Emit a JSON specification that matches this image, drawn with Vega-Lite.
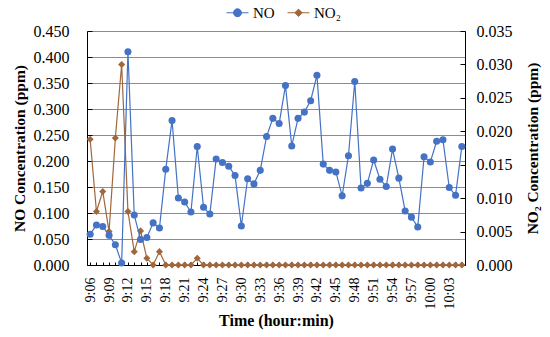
{
  "$schema": "https://vega.github.io/schema/vega-lite/v6.json",
  "width": 378,
  "height": 234,
  "autosize": {"type": "none"},
  "padding": {"left": 87, "top": 31, "right": 85, "bottom": 72},
  "background": "white",
  "config": {
    "view": {"stroke": null},
    "font": "Liberation Serif",
    "style": {"guide-label": {"font": "Liberation Serif"}, "guide-title": {"font": "Liberation Serif"}},
    "axis": {"domainColor": "black", "tickColor": "black", "labelColor": "black", "titleColor": "black", "labelFont": "Liberation Serif", "titleFont": "Liberation Serif", "titleFontWeight": "bold"},
    "legend": {"labelFont": "Liberation Serif"}
  },
  "data": {"values": [
    {"t": "9:06", "NO": 0.059, "NO2": 0.0188},
    {"t": "9:07", "NO": 0.077, "NO2": 0.0080},
    {"t": "9:08", "NO": 0.074, "NO2": 0.0110},
    {"t": "9:09", "NO": 0.057, "NO2": 0.0050},
    {"t": "9:10", "NO": 0.039, "NO2": 0.0190},
    {"t": "9:11", "NO": 0.004, "NO2": 0.0300},
    {"t": "9:12", "NO": 0.410, "NO2": 0.0080},
    {"t": "9:13", "NO": 0.096, "NO2": 0.0020},
    {"t": "9:14", "NO": 0.049, "NO2": 0.0051},
    {"t": "9:15", "NO": 0.053, "NO2": 0.0010},
    {"t": "9:16", "NO": 0.081, "NO2": 0.0},
    {"t": "9:17", "NO": 0.071, "NO2": 0.0020},
    {"t": "9:18", "NO": 0.184, "NO2": 0.0},
    {"t": "9:19", "NO": 0.278, "NO2": 0.0},
    {"t": "9:20", "NO": 0.129, "NO2": 0.0},
    {"t": "9:21", "NO": 0.121, "NO2": 0.0},
    {"t": "9:22", "NO": 0.102, "NO2": 0.0},
    {"t": "9:23", "NO": 0.228, "NO2": 0.0010},
    {"t": "9:24", "NO": 0.111, "NO2": 0.0},
    {"t": "9:25", "NO": 0.098, "NO2": 0.0},
    {"t": "9:26", "NO": 0.204, "NO2": 0.0},
    {"t": "9:27", "NO": 0.197, "NO2": 0.0},
    {"t": "9:28", "NO": 0.190, "NO2": 0.0},
    {"t": "9:29", "NO": 0.172, "NO2": 0.0},
    {"t": "9:30", "NO": 0.075, "NO2": 0.0},
    {"t": "9:31", "NO": 0.166, "NO2": 0.0},
    {"t": "9:32", "NO": 0.156, "NO2": 0.0},
    {"t": "9:33", "NO": 0.182, "NO2": 0.0},
    {"t": "9:34", "NO": 0.247, "NO2": 0.0},
    {"t": "9:35", "NO": 0.282, "NO2": 0.0},
    {"t": "9:36", "NO": 0.272, "NO2": 0.0},
    {"t": "9:37", "NO": 0.345, "NO2": 0.0},
    {"t": "9:38", "NO": 0.229, "NO2": 0.0},
    {"t": "9:39", "NO": 0.282, "NO2": 0.0},
    {"t": "9:40", "NO": 0.294, "NO2": 0.0},
    {"t": "9:41", "NO": 0.316, "NO2": 0.0},
    {"t": "9:42", "NO": 0.365, "NO2": 0.0},
    {"t": "9:43", "NO": 0.194, "NO2": 0.0},
    {"t": "9:44", "NO": 0.182, "NO2": 0.0},
    {"t": "9:45", "NO": 0.179, "NO2": 0.0},
    {"t": "9:46", "NO": 0.133, "NO2": 0.0},
    {"t": "9:47", "NO": 0.210, "NO2": 0.0},
    {"t": "9:48", "NO": 0.353, "NO2": 0.0},
    {"t": "9:49", "NO": 0.148, "NO2": 0.0},
    {"t": "9:50", "NO": 0.157, "NO2": 0.0},
    {"t": "9:51", "NO": 0.202, "NO2": 0.0},
    {"t": "9:52", "NO": 0.165, "NO2": 0.0},
    {"t": "9:53", "NO": 0.151, "NO2": 0.0},
    {"t": "9:54", "NO": 0.223, "NO2": 0.0},
    {"t": "9:55", "NO": 0.167, "NO2": 0.0},
    {"t": "9:56", "NO": 0.104, "NO2": 0.0},
    {"t": "9:57", "NO": 0.092, "NO2": 0.0},
    {"t": "9:58", "NO": 0.073, "NO2": 0.0},
    {"t": "9:59", "NO": 0.208, "NO2": 0.0},
    {"t": "10:00", "NO": 0.198, "NO2": 0.0},
    {"t": "10:01", "NO": 0.238, "NO2": 0.0},
    {"t": "10:02", "NO": 0.241, "NO2": 0.0},
    {"t": "10:03", "NO": 0.149, "NO2": 0.0},
    {"t": "10:04", "NO": 0.134, "NO2": 0.0},
    {"t": "10:05", "NO": 0.228, "NO2": 0.0}
  ]},
  "encoding": {
    "x": {
      "field": "t", "type": "ordinal", "sort": null,
      "scale": {"type": "point", "padding": 0.5},
      "axis": {
        "title": "Time (hour:min)", "titleFontSize": 16, "titlePadding": 4, "titleFont": "Liberation Serif",
        "labelFont": "Liberation Serif", "labelAngle": 270, "labelFontSize": 14, "labelPadding": 15, "labelOverlap": false,
        "labelExpr": "(+split(datum.value, ':')[1]) % 3 === 0 ? datum.label : ''",
        "tickSize": -3, "grid": false
      }
    }
  },
  "layer": [
    {
      "encoding": {
        "y": {
          "field": "NO2", "type": "quantitative",
          "scale": {"domain": [0, 0.035], "nice": false, "zero": true},
          "axis": {
            "orient": "right", "title": "NO₂ Concentration (ppm)", "titleFontSize": 15.5, "titleFont": "Liberation Serif",
            "titleAngle": 270, "titleBaseline": "top", "titlePadding": 13,
            "values": [0, 0.005, 0.01, 0.015, 0.02, 0.025, 0.03, 0.035],
            "format": ".3f", "labelFont": "Liberation Serif", "labelFontSize": 16, "labelPadding": 16, "tickSize": -5, "grid": false
          }
        }
      },
      "layer": [
        {
          "mark": {"type": "line", "strokeWidth": 1.2, "color": "#A87B55"},
          "encoding": {
            "color": {"datum": "NO₂", "scale": {"domain": ["NO", "NO₂"], "range": ["#4472C4", "#A0673C"]},
              "legend": {"orient": "none", "legendX": 139, "legendY": -30, "direction": "horizontal", "title": null,
                "labelFont": "Liberation Serif", "labelFontSize": 15, "symbolSize": 484, "labelOffset": 4, "columnPadding": 10, "padding": 0,
                "encode": {"symbols": {"update": {
                  "shape": {"signal": "datum.value === 'NO' ? 'M-1,0H1M0.36,0A0.36,0.36 0 1,1 -0.36,0A0.36,0.36 0 1,1 0.36,0Z' : 'M-1,0H1M0,-0.33L0.33,0L0,0.33L-0.33,0Z'"},
                  "fill": {"scale": "color", "field": "value"},
                  "stroke": {"scale": "color", "field": "value"},
                  "strokeWidth": {"value": 1},
                  "opacity": {"value": 1}, "fillOpacity": {"value": 1}, "strokeOpacity": {"value": 1}
                }}}}}
          }
        },
        {
          "mark": {"type": "point", "shape": "diamond", "filled": true, "size": 50, "opacity": 1},
          "encoding": {
            "color": {"datum": "NO₂",
              "legend": {"orient": "none", "legendX": 139, "legendY": -30, "direction": "horizontal", "title": null,
                "labelFont": "Liberation Serif", "labelFontSize": 15, "symbolSize": 484, "labelOffset": 4, "columnPadding": 10, "padding": 0,
                "encode": {"symbols": {"update": {
                  "shape": {"signal": "datum.value === 'NO' ? 'M-1,0H1M0.36,0A0.36,0.36 0 1,1 -0.36,0A0.36,0.36 0 1,1 0.36,0Z' : 'M-1,0H1M0,-0.33L0.33,0L0,0.33L-0.33,0Z'"},
                  "fill": {"scale": "color", "field": "value"},
                  "stroke": {"scale": "color", "field": "value"},
                  "strokeWidth": {"value": 1},
                  "opacity": {"value": 1}, "fillOpacity": {"value": 1}, "strokeOpacity": {"value": 1}
                }}}}}
          }
        }
      ]
    },
    {
      "encoding": {
        "y": {
          "field": "NO", "type": "quantitative",
          "scale": {"domain": [0, 0.45], "nice": false, "zero": true},
          "axis": {
            "orient": "left", "title": "NO Concentration (ppm)", "titleFontSize": 15.5, "titlePadding": 6, "titleFont": "Liberation Serif",
            "values": [0, 0.05, 0.1, 0.15, 0.2, 0.25, 0.3, 0.35, 0.4, 0.45],
            "format": ".3f", "labelFont": "Liberation Serif", "labelFontSize": 16, "labelPadding": 23, "tickSize": -5,
            "grid": true, "gridColor": "#8C8C8C", "gridWidth": 1
          }
        }
      },
      "layer": [
        {
          "mark": {"type": "line", "strokeWidth": 1.2, "color": "#5877C4"},
          "encoding": {
            "color": {"datum": "NO",
              "legend": {"orient": "none", "legendX": 139, "legendY": -30, "direction": "horizontal", "title": null,
                "labelFont": "Liberation Serif", "labelFontSize": 15, "symbolSize": 484, "labelOffset": 4, "columnPadding": 10, "padding": 0,
                "encode": {"symbols": {"update": {
                  "shape": {"signal": "datum.value === 'NO' ? 'M-1,0H1M0.36,0A0.36,0.36 0 1,1 -0.36,0A0.36,0.36 0 1,1 0.36,0Z' : 'M-1,0H1M0,-0.33L0.33,0L0,0.33L-0.33,0Z'"},
                  "fill": {"scale": "color", "field": "value"},
                  "stroke": {"scale": "color", "field": "value"},
                  "strokeWidth": {"value": 1},
                  "opacity": {"value": 1}, "fillOpacity": {"value": 1}, "strokeOpacity": {"value": 1}
                }}}}}
          }
        },
        {
          "mark": {"type": "point", "shape": "circle", "filled": true, "size": 50, "opacity": 1},
          "encoding": {
            "color": {"datum": "NO",
              "legend": {"orient": "none", "legendX": 139, "legendY": -30, "direction": "horizontal", "title": null,
                "labelFont": "Liberation Serif", "labelFontSize": 15, "symbolSize": 484, "labelOffset": 4, "columnPadding": 10, "padding": 0,
                "encode": {"symbols": {"update": {
                  "shape": {"signal": "datum.value === 'NO' ? 'M-1,0H1M0.36,0A0.36,0.36 0 1,1 -0.36,0A0.36,0.36 0 1,1 0.36,0Z' : 'M-1,0H1M0,-0.33L0.33,0L0,0.33L-0.33,0Z'"},
                  "fill": {"scale": "color", "field": "value"},
                  "stroke": {"scale": "color", "field": "value"},
                  "strokeWidth": {"value": 1},
                  "opacity": {"value": 1}, "fillOpacity": {"value": 1}, "strokeOpacity": {"value": 1}
                }}}}}
          }
        }
      ]
    }
  ],
  "resolve": {"scale": {"y": "independent"}}
}
